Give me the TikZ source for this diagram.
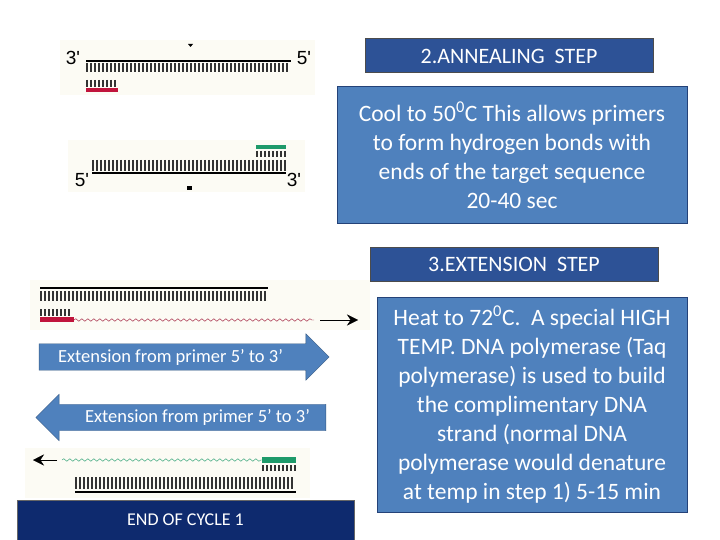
\documentclass[tikz,border=0pt]{standalone}
\usepackage{fontspec}
\setmainfont{Carlito}
\newfontfamily\arialf{Liberation Sans}
\usetikzlibrary{shapes.arrows,arrows.meta,decorations.pathmorphing}
\definecolor{boxblue}{HTML}{4F81BD}
\definecolor{hdrblue}{HTML}{2D5296}
\definecolor{navy}{HTML}{0E2A6E}
\definecolor{prired}{HTML}{C0143C}
\definecolor{prigreen}{HTML}{1E9A6A}
\definecolor{cream}{HTML}{FCFBF4}
\tikzset{
 hdr/.style={draw=black!70,fill=hdrblue,text=white,font=\fontsize{22}{24}\selectfont,minimum width=288pt,minimum height=34pt,inner sep=0pt,line width=1pt},
 info/.style={draw=hdrblue!80!black,fill=boxblue,text=white,font=\fontsize{23.5}{29}\selectfont,align=center,line width=1pt,inner sep=0pt},
 bigarr/.style={single arrow,fill=boxblue,draw=boxblue!70!black,text=white,font=\fontsize{18.5}{20}\selectfont,single arrow head extend=10pt,inner xsep=3pt,inner ysep=5pt,minimum height=290pt},
 bb/.style={line width=2.8pt,black},
 tk/.style={line width=1.5pt,black!80},
 lbl/.style={font=\fontsize{19}{19}\selectfont\arialf}
}
\begin{document}
\begin{tikzpicture}[x=1pt,y=-1pt]
\useasboundingbox (0,0) rectangle (720,540);
\fill[white] (0,0) rectangle (720,540);
% backgrounds
\fill[cream] (60,40) rectangle (315,95);
\fill[cream] (68,140) rectangle (305,192);
\fill[cream] (30,280) rectangle (370,330);
\fill[cream] (25,448) rectangle (310,498);
% strand 1
\draw[bb] (86,61) -- (291,61);
\foreach \x in {87,91,...,290} \draw[tk] (\x,63) -- (\x,72);
\foreach \x in {87,91,...,116} \draw[tk] (\x,80) -- (\x,87);
\fill[prired] (86,88) rectangle (118,92);
\node[lbl] (t3a) at (73,58) {3'};
\node[lbl] (t5a) at (304,58) {5'};
\fill (188,44) -- (193,44) -- (190.5,47) -- cycle;
% strand 2
\draw[bb] (92,173) -- (286,173);
\foreach \x in {93,97,...,285} \draw[tk] (\x,160) -- (\x,171);
\foreach \x in {257,261,...,285} \draw[tk] (\x,151) -- (\x,157);
\fill[prigreen] (256,145) rectangle (286,149);
\node[lbl] (t5b) at (82,180) {5'};
\node[lbl] (t3b) at (294,180) {3'};
\fill (187,186) rectangle (192,190);
% extension 1
\draw[bb] (40,288) -- (268,288);
\foreach \x in {41,45,...,267} \draw[tk] (\x,291) -- (\x,301);
\foreach \x in {41,45,...,72} \draw[tk] (\x,309) -- (\x,316);
\fill[prired] (40,317) rectangle (74,322);
\draw[prired!80!black,decorate,decoration={snake,amplitude=1.3pt,segment length=6pt}] (74,320) -- (314,320);
\coordinate (e1s) at (320,320); \coordinate (e1e) at (358,320);
\draw[-{Stealth[length=11pt,width=11pt]}] (e1s) -- (e1e);
% extension 2
\coordinate (e2s) at (57,460); \coordinate (e2e) at (33,460);
\draw[-{Stealth[length=11pt,width=11pt]}] (e2s) -- (e2e);
\draw[prigreen,decorate,decoration={snake,amplitude=1.3pt,segment length=6pt}] (62,460) -- (262,460);
\fill[prigreen] (262,457) rectangle (296,463);
\foreach \x in {263,267,...,295} \draw[tk] (\x,465) -- (\x,471);
\foreach \x in {76,80,...,295} \draw[tk] (\x,477) -- (\x,489);
\draw[bb] (75,492) -- (296,492);
% arrows
\node[bigarr] (ar1) at (177.5,357) {\hspace*{-14pt}Extension from primer 5' to 3'};
\node[bigarr,shape border rotate=180] (ar2) at (187.5,417.5) {\hspace*{20pt}Extension from primer 5' to 3'};
% boxes
\node[hdr] (h2) at (509,56) {2.ANNEALING\ \ STEP};
\node[info,minimum width=350pt,minimum height=137pt] (i2) at (512,155.5) {Cool to 50\textsuperscript{0}C This allows primers\\to form hydrogen bonds with\\ends of the target sequence\\20-40 sec};
\node[hdr] (h3) at (514,264) {3.EXTENSION\ \ STEP};
\node[info,minimum width=310pt,minimum height=215pt] (i3) at (532,404.5) {Heat to 72\textsuperscript{0}C.\ \ A special HIGH\\TEMP. DNA polymerase (Taq\\polymerase) is used to build\\the complimentary DNA\\strand (normal DNA\\polymerase would denature\\at temp in step 1) 5-15 min};
\node[draw=black!60,fill=navy,text=white,font=\fontsize{18}{20}\selectfont,minimum width=337pt,minimum height=40pt,inner sep=0pt] (end) at (185.5,520) {END OF CYCLE 1};
\end{tikzpicture}
\end{document}
